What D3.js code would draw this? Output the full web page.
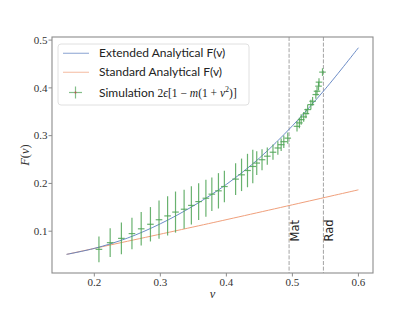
<!DOCTYPE html>
<html><head><meta charset="utf-8">
<script src="https://cdn.jsdelivr.net/npm/d3@7"></script>
<style>body{margin:0;background:#fff}svg{display:block}</style>
</head><body>
<svg id="c" width="415" height="312"></svg>
<script>
// Extended analytical F(v)
const extV = [0.158, 0.2, 0.25, 0.3, 0.35, 0.4, 0.45, 0.5, 0.55, 0.6];
const extF = [0.0515, 0.064, 0.0855, 0.1155, 0.153, 0.198, 0.253, 0.3205, 0.398, 0.484];
// Standard analytical F(v)
const stdV = [0.158, 0.38, 0.6];
const stdF = [0.0515, 0.118, 0.1866];
// Simulation points
const simV = [0.207,0.224,0.241,0.257,0.271,0.285,0.298,0.311,0.323,0.336,0.347,0.358,0.369,0.378,0.388,0.397,0.414,0.423,0.432,0.440,0.446,0.454,0.462,0.4706,0.478,0.483,0.487,0.493,0.507,0.5106,0.5133,0.5171,0.5205,0.5231,0.528,0.5306,0.5355,0.5373,0.5396,0.5403,0.5456];
const simF = [0.062,0.076,0.085,0.095,0.105,0.1145,0.124,0.132,0.140,0.146,0.154,0.162,0.169,0.1775,0.1845,0.1935,0.209,0.218,0.227,0.2355,0.2426,0.2496,0.257,0.2653,0.2742,0.2811,0.2874,0.2948,0.3195,0.3267,0.3336,0.3393,0.3462,0.3546,0.365,0.372,0.386,0.393,0.4036,0.412,0.433];
const simErrF = [0.027,0.030,0.033,0.033,0.035,0.036,0.040,0.041,0.043,0.041,0.040,0.0385,0.0385,0.035,0.037,0.033,0.033,0.034,0.035,0.035,0.025,0.022,0.018,0.016,0.014,0.013,0.013,0.012,0.011,0.011,0.011,0.010,0.010,0.010,0.010,0.009,0.009,0.009,0.009,0.008,0.008];
const simErrV = 0.005;
// Reference lines
const vlines = [{v:0.495, label:"Mat"}, {v:0.547, label:"Rad"}];
const xTicks = [0.2, 0.3, 0.4, 0.5, 0.6];
const yTicks = [0.1, 0.2, 0.3, 0.4, 0.5];
const legendLabels = ["Extended Analytical F(v)", "Standard Analytical F(v)"];

const svg = d3.select("#c");
const L = 52, R = 373, T = 37, B = 273;
const x = d3.scaleLinear().domain([0.1359, 0.6221]).range([L, R]);
const y = d3.scaleLinear().domain([0.0125, 0.5065]).range([B, T]);

const blue = "#5b7fc0", orange = "#f0a07c", green = "#4fa456";
const serif = "'Liberation Serif','DejaVu Serif',serif";
const sans = "Lato,'DejaVu Sans',sans-serif";

// vertical dashed lines
vlines.forEach(d => {
  svg.append("line").attr("x1", x(d.v)).attr("x2", x(d.v)).attr("y1", T).attr("y2", B)
    .attr("stroke", "#9a9a9a").attr("stroke-width", 0.9).attr("stroke-dasharray", "4,1.6");
});

// curves
const line = d3.line().curve(d3.curveCatmullRom.alpha(0.5));
svg.append("path").attr("d", line(stdV.map((v,i)=>[x(v), y(stdF[i])])))
  .attr("fill","none").attr("stroke", orange).attr("stroke-width", 1);
svg.append("path").attr("d", line(extV.map((v,i)=>[x(v), y(extF[i])])))
  .attr("fill","none").attr("stroke", blue).attr("stroke-width", 0.9);

// error bars
const g = svg.append("g").attr("stroke", green).attr("stroke-width", 1.2).attr("stroke-opacity", 0.85);
simV.forEach((v,i) => {
  g.append("line").attr("x1", x(v)).attr("x2", x(v))
    .attr("y1", y(simF[i]-simErrF[i])).attr("y2", y(simF[i]+simErrF[i]));
  g.append("line").attr("x1", x(v-simErrV)).attr("x2", x(v+simErrV))
    .attr("y1", y(simF[i])).attr("y2", y(simF[i]));
});

// Mat / Rad labels
vlines.forEach(d => {
  svg.append("text").attr("transform", `translate(${x(d.v)+10},${241.5}) rotate(-90)`)
    .attr("font-family", "'DejaVu Sans',sans-serif").attr("font-size", 11.5).attr("fill", "#222")
    .text(d.label);
});

// frame
svg.append("rect").attr("x", L).attr("y", T).attr("width", R-L).attr("height", B-T)
  .attr("fill","none").attr("stroke","#8c8c8c").attr("stroke-width",1.1);

// axes ticks
const xa = svg.append("g");
xTicks.forEach(t => {
  xa.append("line").attr("x1", x(t)).attr("x2", x(t)).attr("y1", B).attr("y2", B+3.5).attr("stroke","#8c8c8c");
  xa.append("text").attr("x", x(t)).attr("y", B+13).attr("text-anchor","middle")
    .attr("font-family", serif).attr("font-size", 11).attr("fill","#333").text(t.toFixed(1));
});
yTicks.forEach(t => {
  xa.append("line").attr("x1", L-3.5).attr("x2", L).attr("y1", y(t)).attr("y2", y(t)).attr("stroke","#8c8c8c");
  xa.append("text").attr("x", L-4.5).attr("y", y(t)+3.8).attr("text-anchor","end")
    .attr("font-family", serif).attr("font-size", 11).attr("fill","#333").text(t.toFixed(1));
});

// axis labels
svg.append("text").attr("x", (L+R)/2).attr("y", 298).attr("text-anchor","middle")
  .attr("font-family", serif).attr("font-size", 12.5).attr("font-style","italic").attr("fill","#333").text("v");
const yl = svg.append("text").attr("transform", `translate(${29},${(T+B)/2}) rotate(-90)`).attr("text-anchor","middle")
  .attr("font-family", serif).attr("font-size", 12.5).attr("fill","#333");
yl.append("tspan").attr("font-style","italic").text("F");
yl.append("tspan").text("(");
yl.append("tspan").attr("font-style","italic").text("v");
yl.append("tspan").text(")");

// legend
const lg = svg.append("g");
lg.append("rect").attr("x", 58).attr("y", 44).attr("width", 191).attr("height", 61).attr("rx", 3)
  .attr("fill","#fff").attr("fill-opacity",0.85).attr("stroke","#dcdcdc").attr("stroke-width",0.9);
const rows = [53.3, 72.3, 92.5];
lg.append("line").attr("x1",63).attr("x2",89).attr("y1",rows[0]).attr("y2",rows[0]).attr("stroke",blue).attr("stroke-width",1.2).attr("stroke-opacity",0.6);
lg.append("line").attr("x1",63).attr("x2",89).attr("y1",rows[1]).attr("y2",rows[1]).attr("stroke",orange).attr("stroke-width",1.2).attr("stroke-opacity",0.6);
lg.append("line").attr("x1",69).attr("x2",82).attr("y1",rows[2]).attr("y2",rows[2]).attr("stroke",green).attr("stroke-width",1.2).attr("stroke-opacity",0.7);
lg.append("line").attr("x1",75.5).attr("x2",75.5).attr("y1",rows[2]-6).attr("y2",rows[2]+6).attr("stroke",green).attr("stroke-width",1.2).attr("stroke-opacity",0.7);
lg.append("circle").attr("cx",75.5).attr("cy",rows[2]).attr("r",0.9).attr("fill","#c44e52");
legendLabels.forEach((s,i) => {
  lg.append("text").attr("x", 99).attr("y", rows[i]+4).attr("font-family", sans).attr("font-size", 12)
    .attr("fill","#222").text(s);
});
const st = lg.append("text").attr("x", 99).attr("y", rows[2]+4).attr("font-family", sans).attr("font-size", 12).attr("fill","#222");
st.append("tspan").text("Simulation ");
const m = (t, it) => st.append("tspan").attr("font-family", serif).attr("font-size", 11.5).attr("font-style", it ? "italic" : "normal").text(t);
m("2", false); m("ϵ", true); m("[1 − ", false); m("m", true); m("(1 + ", false); m("v", true);
st.append("tspan").attr("font-family", serif).attr("font-size", 8).attr("dy", -4.5).text("2");
st.append("tspan").attr("font-family", serif).attr("font-size", 11.5).attr("dy", 4.5).text(")]");
</script>
</body></html>
